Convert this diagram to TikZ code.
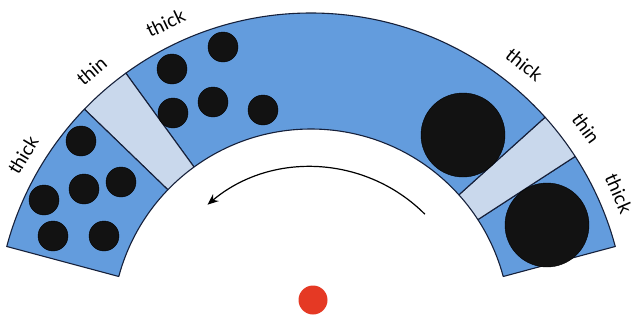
\documentclass[tikz,border=0pt]{standalone}
\usepackage{fontspec}
\setmainfont{Lato}
\usetikzlibrary{arrows.meta,positioning,calc}
\definecolor{bandblue}{RGB}{99,156,221}
\definecolor{bandlight}{RGB}{201,216,236}
\definecolor{edgenavy}{RGB}{22,32,58}
\definecolor{dotred}{RGB}{229,57,36}
% one piece of the ring: start angle, end angle, fill
\newcommand{\ringpart}[3]{%
  \filldraw[part, fill=#3] ([shift={(O)}]#1:315) arc[start angle=#1, end angle=#2, radius=315]
    -- ([shift={(O)}]#2:199) arc[start angle=#2, end angle=#1, radius=199] -- cycle;}

\begin{document}
\begin{tikzpicture}[x=1pt, y=1pt, >=Stealth,
    part/.style={draw=edgenavy, line width=1.1pt, line join=round},
    ball/.style={circle, fill=black!93, draw=black, inner sep=0pt, minimum size=30pt},
    bigball/.style={ball, minimum size=84pt},
    lbl/.style={font=\fontsize{19}{22}\selectfont, inner sep=0pt}]
  \useasboundingbox (0,0) rectangle (638,-322);
  \coordinate (O) at (311,-328);

  % ring
  \ringpart{15}{33}{bandblue}
  \ringpart{33}{42}{bandlight}
  \ringpart{42}{126}{bandblue}
  \ringpart{126}{136}{bandlight}
  \ringpart{136}{165}{bandblue}

  % particles, left part
  \node[ball] (l1) at (81,-141) {};
  \node[ball] (l2) at (84,-189) {};
  \node[ball] (l3) at (121,-182) {};
  \node[ball] (l4) at (44,-200) {};
  \node[ball] (l5) at (53,-236) {};
  \node[ball] (l6) at (104,-236) {};
  % particles, middle part
  \node[ball] (m1) at (172,-69) {};
  \node[ball] (m2) at (223,-47) {};
  \node[ball] (m3) at (173,-113) {};
  \node[ball] (m4) at (213,-102) {};
  \node[ball] (m5) at (263,-110) {};
  \node[bigball] (b1) at (463,-135) {};
  \node[bigball] (b2) at (547,-225) {};

  % labels along the outer edge
  \node[lbl, rotate=59]    (t1) at ([shift={(O)}]149:336) {thick};
  \node[lbl, rotate=40.5]  (t2) at ([shift={(O)}]130.5:338) {thin};
  \node[lbl, rotate=25.5]  (t3) at ([shift={(O)}]115.5:338) {thick};
  \node[lbl, rotate=-39]   (t4) at ([shift={(O)}]51:339) {thick};
  \node[lbl, rotate=-54]   (t5) at ([shift={(O)}]36:340) {thin};
  \node[lbl, rotate=-66.4] (t6) at ([shift={(O)}]23.6:336) {thick};

  % direction of motion
  \coordinate (a0) at ([shift={(O)}]45:161);
  \draw[->, line width=1.2pt, >={Stealth[length=11pt, width=9pt]}]
    (a0) arc[start angle=45, end angle=130, radius=161];

  \node[circle, fill=dotred, inner sep=0pt, minimum size=29pt] (ctr) at (313,-300) {};
\end{tikzpicture}
\end{document}
